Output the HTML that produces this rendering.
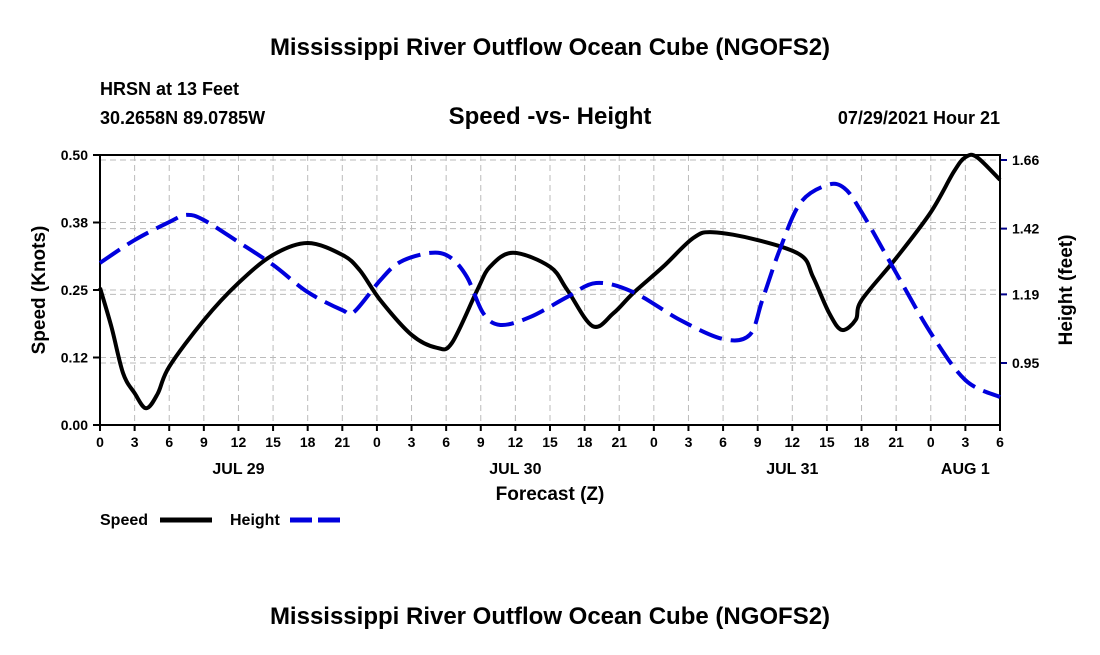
<!DOCTYPE html>
<html><head><meta charset="utf-8"><style>
body{margin:0;background:#fff}
svg text{font-family:"Liberation Sans",sans-serif;font-weight:bold;fill:#000}
</style></head><body>
<svg id="c" width="1100" height="650" viewBox="0 0 1100 650" xmlns="http://www.w3.org/2000/svg">
<text x="550" y="55" font-size="24" text-anchor="middle">Mississippi River Outflow Ocean Cube (NGOFS2)</text>
<text x="100" y="95" font-size="18">HRSN at 13 Feet</text>
<text x="100" y="124" font-size="18">30.2658N  89.0785W</text>
<text x="550" y="124" font-size="24" text-anchor="middle">Speed -vs- Height</text>
<text x="1000" y="124" font-size="18" text-anchor="end">07/29/2021 Hour 21</text>
<g id="grid"></g><g id="axes"></g><g id="series"></g>
<text x="550" y="500" font-size="19" text-anchor="middle">Forecast (Z)</text>
<text transform="translate(45,290) rotate(-90)" font-size="19" text-anchor="middle">Speed (Knots)</text>
<text transform="translate(1072,290) rotate(-90)" font-size="19" text-anchor="middle">Height (feet)</text>
<g><text x="100" y="525" font-size="16">Speed</text><line x1="160" y1="520" x2="212" y2="520" stroke="#000" stroke-width="5"/></g>
<g><text x="230" y="525" font-size="16">Height</text><line x1="290" y1="520" x2="342" y2="520" stroke="#0000dd" stroke-width="5" stroke-dasharray="22,6"/></g>
<text x="550" y="624" font-size="24" text-anchor="middle">Mississippi River Outflow Ocean Cube (NGOFS2)</text>
</svg>
<script>
const tickHours=[0,3,6,9,12,15,18,21,24,27,30,33,36,39,42,45,48,51,54,57,60,63,66,69,72,75,78];
const tickLabels=["0","3","6","9","12","15","18","21","0","3","6","9","12","15","18","21","0","3","6","9","12","15","18","21","0","3","6"];
const dateLabels=["JUL 29","JUL 30","JUL 31","AUG 1"];
const dateHours=[12,36,60,75];
const leftTicks=[0,0.125,0.25,0.375,0.5];
const leftTickLabels=["0.00","0.12","0.25","0.38","0.50"];
const rightTicks=[0.95,1.19,1.42,1.66];
const rightTickLabels=["0.95","1.19","1.42","1.66"];
const speedHours=[0,1,2,3,4,5,6,9,12,15,18,21,22.5,24.3,27,29.2,30.5,32.7,33.8,35.8,39,40.5,42.7,44.5,46.2,48.8,51.4,53.1,56.9,60.7,61.8,63.2,64.3,65.5,66,69,72,74,75,76,78];
const speedValues=[0.254,0.181,0.096,0.059,0.031,0.058,0.108,0.194,0.263,0.315,0.337,0.315,0.287,0.231,0.167,0.143,0.152,0.25,0.293,0.319,0.293,0.25,0.183,0.207,0.244,0.293,0.346,0.357,0.343,0.315,0.274,0.207,0.176,0.195,0.231,0.309,0.394,0.469,0.496,0.496,0.454];
const heightHours=[0,3,6,7.5,9,12,15,18,21,22,24.3,26,28.6,30.3,31.8,33.2,34.7,37.3,40.5,43,46.2,50.3,54,56.3,57.4,58.9,60.7,63,64.5,66,69,72,75,78];
const heightValues=[1.300,1.380,1.443,1.468,1.450,1.373,1.293,1.198,1.135,1.128,1.240,1.303,1.335,1.321,1.251,1.125,1.083,1.111,1.181,1.230,1.198,1.100,1.034,1.048,1.170,1.345,1.510,1.572,1.562,1.478,1.265,1.055,0.890,0.831];
const NS='http://www.w3.org/2000/svg';
const L=100,R=1000,T=155,B=425;
const x=h=>L+h/78*(R-L);
const yL=v=>B-v/0.5*(B-T);
const yR=v=>160+(1.66-v)/0.71*203;
function mk(tag,attrs,parent){const e=document.createElementNS(NS,tag);for(const k in attrs)e.setAttribute(k,attrs[k]);parent.appendChild(e);return e;}
const grid=document.getElementById('grid'),axes=document.getElementById('axes'),ser=document.getElementById('series');
tickHours.forEach((h,i)=>{
 if(i>0&&i<tickHours.length-1){const g=mk('line',{x1:x(h),x2:x(h),y1:T,y2:B,stroke:'#bbb','stroke-dasharray':'6,4'},grid);
 
 }
 mk('line',{x1:x(h),x2:x(h),y1:B,y2:B+6,stroke:'#000','stroke-width':2},axes);
 const t=mk('text',{x:x(h),y:B+22,'font-size':14,'text-anchor':'middle'},axes);t.textContent=tickLabels[i];
 
 
});
dateLabels.forEach((d,i)=>{const t=mk('text',{x:x(dateHours[i]),y:474,'font-size':16,'text-anchor':'middle'},axes);t.textContent=d;
 
 });
leftTicks.forEach((v,i)=>{
 if(i>0&&i<leftTicks.length-1){const g=mk('line',{x1:L,x2:R,y1:yL(v),y2:yL(v),stroke:'#bbb','stroke-dasharray':'6,4'},grid);
 
 }
 mk('line',{x1:L-7,x2:L,y1:yL(v),y2:yL(v),stroke:'#000','stroke-width':2},axes);
 const t=mk('text',{x:L-12,y:yL(v)+5,'font-size':14,'text-anchor':'end'},axes);t.textContent=leftTickLabels[i];
 
 
});
rightTicks.forEach((v,i)=>{
 const g=mk('line',{x1:L,x2:R,y1:yR(v),y2:yR(v),stroke:'#bbb','stroke-dasharray':'6,4'},grid);
 
 
 mk('line',{x1:R,x2:R+7,y1:yR(v),y2:yR(v),stroke:'#000088','stroke-width':2},axes);
 const t=mk('text',{x:R+12,y:yR(v)+5,'font-size':14},axes);t.textContent=rightTickLabels[i];
 
 
});
const box=mk('rect',{x:L,y:T,width:R-L,height:B-T,fill:'none',stroke:'#000','stroke-width':2},axes);


function smooth(pts){let d='M'+pts[0][0]+','+pts[0][1];
 for(let i=0;i<pts.length-1;i++){const p0=pts[i-1]||pts[i],p1=pts[i],p2=pts[i+1],p3=pts[i+2]||p2;
  const c1=[p1[0]+(p2[0]-p0[0])/6,p1[1]+(p2[1]-p0[1])/6],c2=[p2[0]-(p3[0]-p1[0])/6,p2[1]-(p3[1]-p1[1])/6];
  d+=' C'+c1+' '+c2+' '+p2;}
 return d;}
const sp=mk('path',{d:smooth(speedHours.map((h,i)=>[x(h),yL(speedValues[i])])),fill:'none',stroke:'#000','stroke-width':4},ser);


const hp=mk('path',{d:smooth(heightHours.map((h,i)=>[x(h),yR(heightValues[i])])),fill:'none',stroke:'#0000dd','stroke-width':4,'stroke-dasharray':'24,9'},ser);


</script>
</body></html>
